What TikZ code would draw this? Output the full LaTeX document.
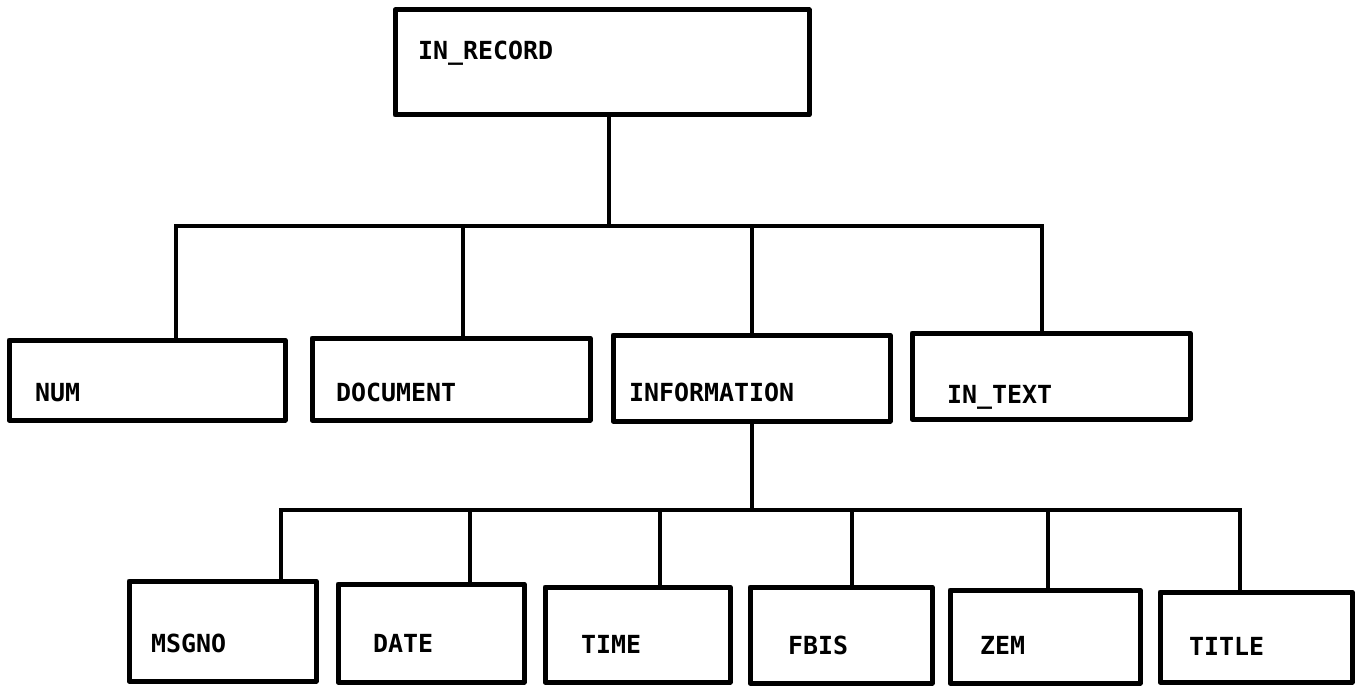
\documentclass[tikz,border=0pt]{standalone}
\usepackage{fontspec}
\setmonofont{DejaVu Sans Mono}
\usetikzlibrary{fit}
\tikzset{
  box/.style={draw, line width=5bp, inner sep=0pt, line join=round},
  wire/.style={draw, line width=4bp},
  lbl/.style={anchor=base west, inner sep=0pt, font=\ttfamily\bfseries\fontsize{25}{30}\selectfont},
}
\begin{document}
\begin{tikzpicture}[x=1bp,y=-1bp]
\path[use as bounding box] (0,0) rectangle (1361,687);

% root record
\node[box, fit={(395,10) (809,115)}] (inrec) {};
\node[lbl] (tinrec) at (418,60) {IN\_RECORD};

% second level
\node[box, fit={(9,340) (285,420)}] (num) {};
\node[box, fit={(312,338) (590,420)}] (doc) {};
\node[box, fit={(613,335) (890,421)}] (info) {};
\node[box, fit={(912,333) (1190,419)}] (intext) {};
\node[lbl] (tnum) at (35,401) {NUM};
\node[lbl] (tdoc) at (336,401) {DOCUMENT};
\node[lbl] (tinfo) at (629,401) {INFORMATION};
\node[lbl] (tintext) at (947,403) {IN\_TEXT};

% third level
\node[box, fit={(129,581) (316,681)}] (msgno) {};
\node[box, fit={(338,584) (524,682)}] (date) {};
\node[box, fit={(545,587) (730,682)}] (time) {};
\node[box, fit={(750,587) (932,683)}] (fbis) {};
\node[box, fit={(950,590) (1140,683)}] (zem) {};
\node[box, fit={(1160,592) (1352,682)}] (title) {};
\node[lbl] (tmsgno) at (151,652) {MSGNO};
\node[lbl] (tdate) at (373,652) {DATE};
\node[lbl] (ttime) at (581,653) {TIME};
\node[lbl] (tfbis) at (788,654) {FBIS};
\node[lbl] (tzem) at (980,654) {ZEM};
\node[lbl] (ttitle) at (1189,655) {TITLE};

% junction points on the first bar
\coordinate (jroot) at (609,226);
\coordinate (jnum) at (176,226);
\coordinate (jdoc) at (463,226);
\coordinate (jinfo) at (752,226);
\coordinate (jtext) at (1042,226);

\draw[wire] (inrec.south -| jroot) -- (jroot);
\draw[wire] ([xshift=-2bp]jnum) -- ([xshift=2bp]jtext);
\draw[wire] (jnum) -- (jnum |- num.north);
\draw[wire] (jdoc) -- (jdoc |- doc.north);
\draw[wire] (jinfo) -- (jinfo |- info.north);
\draw[wire] (jtext) -- (jtext |- intext.north);

% junction points on the second bar
\coordinate (kinfo) at (752,510);
\coordinate (kmsgno) at (281,510);
\coordinate (kdate) at (470,510);
\coordinate (ktime) at (660,510);
\coordinate (kfbis) at (852,510);
\coordinate (kzem) at (1048,510);
\coordinate (ktitle) at (1240,510);

\draw[wire] (info.south -| kinfo) -- (kinfo);
\draw[wire] ([xshift=-2bp]kmsgno) -- ([xshift=2bp]ktitle);
\draw[wire] (kmsgno) -- (kmsgno |- msgno.north);
\draw[wire] (kdate) -- (kdate |- date.north);
\draw[wire] (ktime) -- (ktime |- time.north);
\draw[wire] (kfbis) -- (kfbis |- fbis.north);
\draw[wire] (kzem) -- (kzem |- zem.north);
\draw[wire] (ktitle) -- (ktitle |- title.north);
\end{tikzpicture}
\end{document}
